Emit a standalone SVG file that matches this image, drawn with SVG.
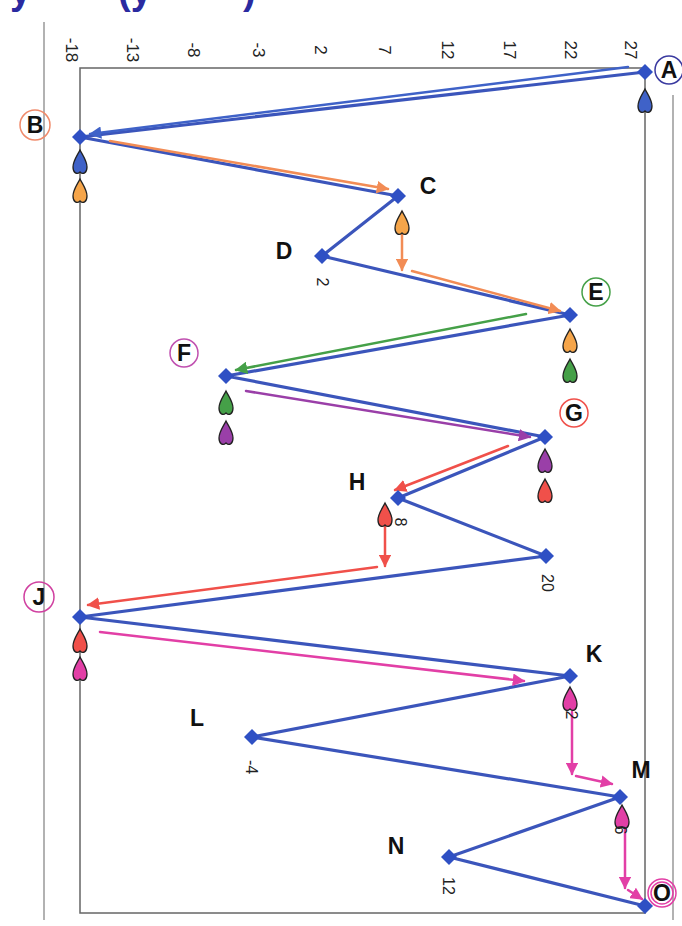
<svg xmlns="http://www.w3.org/2000/svg" xmlns:xlink="http://www.w3.org/1999/xlink" width="682" height="926" viewBox="0 0 682 926">
<style>
.hdr{font-family:"Liberation Sans",Arial,sans-serif;font-weight:bold;font-size:38px;fill:#2a2aa0}
.ax{font-family:"Liberation Sans",Arial,sans-serif;font-size:17px;fill:#222}
.val{font-family:"Liberation Sans",Arial,sans-serif;font-size:16px;fill:#222}
.let{font-family:"Liberation Sans",Arial,sans-serif;font-weight:bold;font-size:23px;fill:#111}
.frame{fill:none;stroke:#666;stroke-width:1.5}
.outer{stroke:#999;stroke-width:1.5}
.data{fill:none;stroke:#3b55bb;stroke-width:3.2;stroke-linejoin:round}
.dia{fill:#2f50c4}
.arr{fill:none;stroke-width:2.5;stroke-linecap:round}
.drop{stroke:#222;stroke-width:1.3}
.ring{fill:none;stroke-width:1.5}
</style>
<defs>
<path id="d" d="M0,-13 C3,-7 7,-2 7,4 C7,10 3,12 0,9 C-3,12 -7,10 -7,4 C-7,-2 -3,-7 0,-13 Z"/>
<path id="dm" d="M0,-8 L8,0 L0,8 L-8,0 Z"/>
<marker id="mb" viewBox="0 0 10 10" refX="9" refY="5" markerWidth="5" markerHeight="5" orient="auto" markerUnits="strokeWidth"><path d="M0,0 L10,5 L0,10 Z" fill="#3f62c8"/></marker>
<marker id="mo" viewBox="0 0 10 10" refX="9" refY="5" markerWidth="5" markerHeight="5" orient="auto" markerUnits="strokeWidth"><path d="M0,0 L10,5 L0,10 Z" fill="#f28c55"/></marker>
<marker id="mg" viewBox="0 0 10 10" refX="9" refY="5" markerWidth="5" markerHeight="5" orient="auto" markerUnits="strokeWidth"><path d="M0,0 L10,5 L0,10 Z" fill="#45a048"/></marker>
<marker id="mp" viewBox="0 0 10 10" refX="9" refY="5" markerWidth="5" markerHeight="5" orient="auto" markerUnits="strokeWidth"><path d="M0,0 L10,5 L0,10 Z" fill="#9a3fa8"/></marker>
<marker id="mr" viewBox="0 0 10 10" refX="9" refY="5" markerWidth="5" markerHeight="5" orient="auto" markerUnits="strokeWidth"><path d="M0,0 L10,5 L0,10 Z" fill="#f0504a"/></marker>
<marker id="mm" viewBox="0 0 10 10" refX="9" refY="5" markerWidth="5" markerHeight="5" orient="auto" markerUnits="strokeWidth"><path d="M0,0 L10,5 L0,10 Z" fill="#e23fa6"/></marker>
</defs>
<rect width="682" height="926" fill="#fff"/>
<text class="hdr" x="10" y="4">y</text>
<text class="hdr" x="118" y="4">(y</text>
<text class="hdr" x="243" y="4">)</text>
<line class="outer" x1="44" y1="22" x2="44" y2="920"/>
<line class="outer" x1="673" y1="95" x2="673" y2="920"/>
<rect class="frame" x="80" y="68" width="565" height="845"/>
<g id="axis">
<text class="ax" transform="translate(66,50) rotate(90)" text-anchor="middle">-18</text>
<text class="ax" transform="translate(127,50) rotate(90)" text-anchor="middle">-13</text>
<text class="ax" transform="translate(188,50) rotate(90)" text-anchor="middle">-8</text>
<text class="ax" transform="translate(253,50) rotate(90)" text-anchor="middle">-3</text>
<text class="ax" transform="translate(315,50) rotate(90)" text-anchor="middle">2</text>
<text class="ax" transform="translate(379,50) rotate(90)" text-anchor="middle">7</text>
<text class="ax" transform="translate(442,50) rotate(90)" text-anchor="middle">12</text>
<text class="ax" transform="translate(504,50) rotate(90)" text-anchor="middle">17</text>
<text class="ax" transform="translate(565,50) rotate(90)" text-anchor="middle">22</text>
<text class="ax" transform="translate(625,50) rotate(90)" text-anchor="middle">27</text>
</g>
<g id="connectors">
<polyline class="data" points="645,72 80,137 398,196 322,256 570,315 226,376 545,437 398,498 546,556 80,617 570,676 252,737 620,797 449,857 645,906"/>
<line class="arr" stroke="#3f62c8" x1="628" y1="67" x2="90" y2="134" marker-end="url(#mb)"/>
<line class="arr" stroke="#f28c55" x1="110" y1="141" x2="388" y2="189" marker-end="url(#mo)"/>
<line class="arr" stroke="#f28c55" x1="402" y1="212" x2="402" y2="270" marker-end="url(#mo)"/>
<line class="arr" stroke="#f28c55" x1="412" y1="271" x2="560" y2="311" marker-end="url(#mo)"/>
<line class="arr" stroke="#45a048" x1="526" y1="314" x2="236" y2="370" marker-end="url(#mg)"/>
<line class="arr" stroke="#9a3fa8" x1="246" y1="391" x2="530" y2="437" marker-end="url(#mp)"/>
<line class="arr" stroke="#f0504a" x1="508" y1="446" x2="395" y2="490" marker-end="url(#mr)"/>
<line class="arr" stroke="#f0504a" x1="385" y1="527" x2="385" y2="566" marker-end="url(#mr)"/>
<line class="arr" stroke="#f0504a" x1="377" y1="567" x2="88" y2="605" marker-end="url(#mr)"/>
<line class="arr" stroke="#e23fa6" x1="100" y1="632" x2="524" y2="681" marker-end="url(#mm)"/>
<line class="arr" stroke="#e23fa6" x1="572" y1="712" x2="572" y2="774" marker-end="url(#mm)"/>
<line class="arr" stroke="#e23fa6" x1="576" y1="776" x2="612" y2="784" marker-end="url(#mm)"/>
<line class="arr" stroke="#e23fa6" x1="625" y1="828" x2="625" y2="888" marker-end="url(#mm)"/>
<line class="arr" stroke="#e23fa6" x1="628" y1="890" x2="642" y2="899" marker-end="url(#mm)"/>
</g>
<g id="A">
<use xlink:href="#dm" x="645" y="72" class="dia"/>
<use xlink:href="#d" x="645" y="102" fill="#3f62c8" class="drop"/>
<circle class="ring" stroke="#3a3aa0" cx="669" cy="70" r="14"/>
<text class="let" x="669" y="78" text-anchor="middle">A</text>
</g>
<g id="B">
<use xlink:href="#dm" x="80" y="137" class="dia"/>
<use xlink:href="#d" x="80" y="163" fill="#3f62c8" class="drop"/>
<use xlink:href="#d" x="80" y="192" fill="#f5a54a" class="drop"/>
<circle class="ring" stroke="#f08a6a" cx="35" cy="125" r="15"/>
<text class="let" x="35" y="133" text-anchor="middle">B</text>
</g>
<g id="C">
<use xlink:href="#dm" x="398" y="196" class="dia"/>
<use xlink:href="#d" x="402" y="224" fill="#f5a54a" class="drop"/>
<text class="let" x="428" y="194" text-anchor="middle">C</text>
</g>
<g id="D">
<use xlink:href="#dm" x="322" y="256" class="dia"/>
<text class="val" transform="translate(317,282) rotate(90)" text-anchor="middle">2</text>
<text class="let" x="284" y="259" text-anchor="middle">D</text>
</g>
<g id="E">
<use xlink:href="#dm" x="570" y="315" class="dia"/>
<use xlink:href="#d" x="570" y="342" fill="#f5a54a" class="drop"/>
<use xlink:href="#d" x="570" y="372" fill="#45a048" class="drop"/>
<circle class="ring" stroke="#45a048" cx="596" cy="292" r="14"/>
<text class="let" x="596" y="300" text-anchor="middle">E</text>
</g>
<g id="F">
<use xlink:href="#dm" x="226" y="376" class="dia"/>
<use xlink:href="#d" x="226" y="404" fill="#45a048" class="drop"/>
<use xlink:href="#d" x="226" y="434" fill="#9a3fa8" class="drop"/>
<circle class="ring" stroke="#c050b0" cx="184" cy="353" r="14"/>
<text class="let" x="184" y="361" text-anchor="middle">F</text>
</g>
<g id="G">
<use xlink:href="#dm" x="545" y="437" class="dia"/>
<use xlink:href="#d" x="545" y="462" fill="#9a3fa8" class="drop"/>
<use xlink:href="#d" x="545" y="492" fill="#f0504a" class="drop"/>
<circle class="ring" stroke="#f0504a" cx="574" cy="413" r="14"/>
<text class="let" x="574" y="421" text-anchor="middle">G</text>
</g>
<g id="H">
<use xlink:href="#dm" x="398" y="498" class="dia"/>
<use xlink:href="#d" x="385" y="516" fill="#f0504a" class="drop"/>
<text class="val" transform="translate(395,522) rotate(90)" text-anchor="middle">8</text>
<text class="let" x="357" y="490" text-anchor="middle">H</text>
</g>
<g id="I">
<use xlink:href="#dm" x="546" y="556" class="dia"/>
<text class="val" transform="translate(542,583) rotate(90)" text-anchor="middle">20</text>
</g>
<g id="J">
<use xlink:href="#dm" x="80" y="617" class="dia"/>
<use xlink:href="#d" x="80" y="642" fill="#f0504a" class="drop"/>
<use xlink:href="#d" x="80" y="670" fill="#e23fa6" class="drop"/>
<circle class="ring" stroke="#d040a0" cx="39" cy="597" r="15"/>
<text class="let" x="39" y="605" text-anchor="middle">J</text>
</g>
<g id="K">
<use xlink:href="#dm" x="570" y="676" class="dia"/>
<use xlink:href="#d" x="570" y="700" fill="#e23fa6" class="drop"/>
<text class="val" transform="translate(566,715) rotate(90)" text-anchor="middle">2</text>
<text class="let" x="594" y="662" text-anchor="middle">K</text>
</g>
<g id="L">
<use xlink:href="#dm" x="252" y="737" class="dia"/>
<text class="val" transform="translate(246,767) rotate(90)" text-anchor="middle">-4</text>
<text class="let" x="197" y="726" text-anchor="middle">L</text>
</g>
<g id="M">
<use xlink:href="#dm" x="620" y="797" class="dia"/>
<use xlink:href="#d" x="622" y="818" fill="#e23fa6" class="drop"/>
<text class="val" transform="translate(615,830) rotate(90)" text-anchor="middle">6</text>
<text class="let" x="641" y="778" text-anchor="middle">M</text>
</g>
<g id="N">
<use xlink:href="#dm" x="449" y="857" class="dia"/>
<text class="val" transform="translate(443,886) rotate(90)" text-anchor="middle">12</text>
<text class="let" x="396" y="854" text-anchor="middle">N</text>
</g>
<g id="O">
<use xlink:href="#dm" x="645" y="906" class="dia"/>
<circle class="ring" stroke="#e23fa6" cx="662" cy="893" r="14"/>
<circle class="ring" stroke="#e23fa6" cx="662" cy="893" r="11"/>
<text class="let" x="662" y="901" text-anchor="middle">O</text>
</g>
</svg>
